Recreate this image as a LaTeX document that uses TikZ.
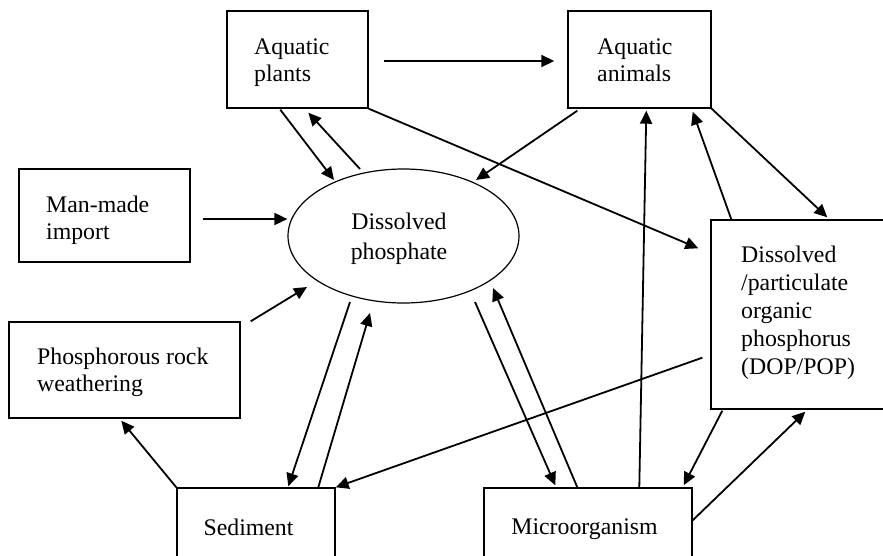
\documentclass[tikz,border=0pt]{standalone}
\usepackage{fontspec}
\setmainfont{Liberation Serif}
\usetikzlibrary{arrows.meta,calc,shapes.geometric}

\begin{document}
\begin{tikzpicture}[x=1pt,y=-1pt,
  box/.style={draw, rectangle, line width=1.4pt, inner sep=0pt},
  txt/.style={inner sep=0pt, font=\fontsize{23.8}{27.5}\selectfont},
  arr/.style={-{Triangle[length=13pt,width=12pt]}, line width=1.8pt},
]
\useasboundingbox (0,0) rectangle (883,555);
\clip (0,0) rectangle (883,555);

% boxes
\node[box, minimum width=141pt, minimum height=97pt] (plants) at (297.5,59.5) {};
\node[box, minimum width=143pt, minimum height=97pt] (animals) at (639.5,59.5) {};
\node[box, minimum width=171pt, minimum height=93pt] (manmade) at (104.5,215.5) {};
\node[box, minimum width=231pt, minimum height=96pt] (rock) at (124.5,370) {};
\node[box, minimum width=158pt, minimum height=92pt] (sediment) at (256,534) {};
\node[box, minimum width=208pt, minimum height=92pt] (micro) at (588,534) {};
\node[box, minimum width=189pt, minimum height=189pt] (dop) at (805.5,314.5) {};
\node[draw, ellipse, line width=1.2pt, inner sep=0pt,
      minimum width=231pt, minimum height=134pt] (ell) at (403.5,236) {};

% labels
\node[txt, anchor=base west] (tplants) at (254,54)
  {\vtop{\hbox{Aquatic}\hbox{plants}}};
\node[txt, anchor=base west] (tanimals) at (597,54)
  {\vtop{\hbox{Aquatic}\hbox{animals}}};
\node[txt, anchor=base west] (tmanmade) at (46,212)
  {\vtop{\hbox{Man-made}\hbox{import}}};
\node[txt, anchor=base west] (trock) at (37,364)
  {\vtop{\hbox{Phosphorous rock}\hbox{weathering}}};
\node[txt, anchor=base] (tsediment) at (248.5,535) {Sediment};
\node[txt, anchor=base] (tmicro) at (584.5,534) {Microorganism};
\node[txt, anchor=base west] (tdop) at (741,262)
  {\vtop{\baselineskip=28pt\hbox{Dissolved}\hbox{/particulate}\hbox{organic}\hbox{phosphorus}\hbox{(DOP/POP)}}};
\node[txt, anchor=base] (tell) at (399,229)
  {\vtop{\baselineskip=30pt\halign{\hfil#\hfil\cr Dissolved\cr phosphate\cr}}};

% flows
\draw[arr] ($(plants.south west)+(54,1)$) -- ($(ell.center)+(-69.5,-56)$);
\draw[arr] ($(ell.center)+(-43.5,-67)$) -- ($(plants.south west)+(82,4)$);
\draw[arr] ($(manmade.east)+(12,3.5)$) -- ($(ell.west)+(0,-17)$);
\draw[arr] ($(plants.east)+(15,1.5)$) -- ($(animals.west)+(-13,1.5)$);
\draw[arr] (plants.south east) -- ($(dop.north west)+(-12,29)$);
\draw[arr] ($(animals.south west)+(10,2)$) -- ($(ell.center)+(72.5,-56)$);
\draw[arr] ($(micro.north west)+(156,0)$) -- ($(animals.south west)+(79,2)$);
\draw[arr] ($(dop.north west)+(21,0)$) -- ($(animals.south east)+(-19,3)$);
\draw[arr] (animals.south east) -- ($(dop.north west)+(117,-2)$);
\draw[arr] ($(rock.north east)+(10,0)$) -- ($(ell.center)+(-96.5,51)$);
\draw[arr] (sediment.north west) -- ($(rock.south west)+(113,2)$);
\draw[arr] ($(ell.center)+(-53.5,66)$) -- ($(sediment.north west)+(112,-1)$);
\draw[arr] ($(sediment.north west)+(142,0)$) -- ($(ell.center)+(-33.5,77)$);
\draw[arr] ($(dop.south west)+(-8,-52)$) -- (sediment.north east);
\draw[arr] ($(ell.center)+(71.5,66)$) -- ($(micro.north west)+(72,-2)$);
\draw[arr] ($(micro.north west)+(94,0)$) -- ($(ell.center)+(89.5,52)$);
\draw[arr] ($(dop.south west)+(12,1)$) -- ($(micro.north east)+(-9,-2)$);
\draw[arr] ($(micro.north east)+(0,33)$) -- ($(dop.south west)+(95,2)$);
\end{tikzpicture}
\end{document}
